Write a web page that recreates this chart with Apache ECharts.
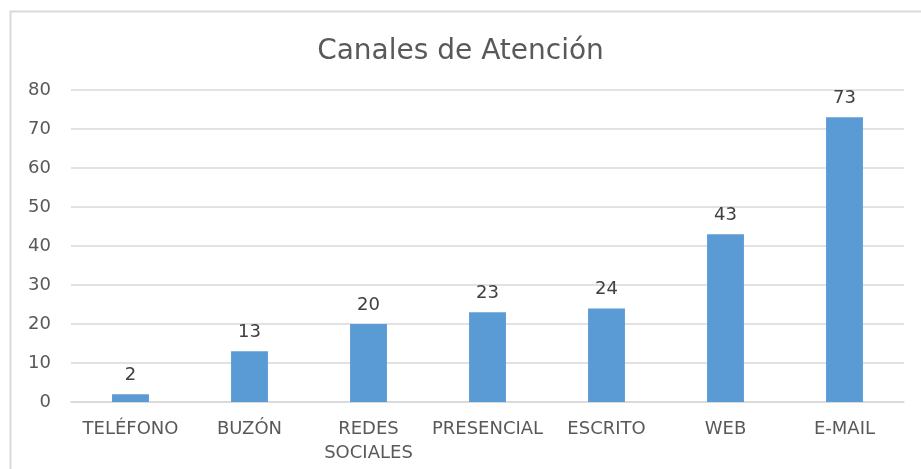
<!DOCTYPE html>
<html><head><meta charset="utf-8">
<script src="https://cdn.jsdelivr.net/npm/echarts@6/dist/echarts.min.js"></script>
<style>html,body{margin:0;padding:0;background:#fff}#c{width:921px;height:469px}</style>
</head><body><div id="c"></div>
<script>
const categories = ['TELÉFONO','BUZÓN','REDES\nSOCIALES','PRESENCIAL','ESCRITO','WEB','E-MAIL'];
const values = [2,13,20,23,24,43,73];
const yTicks = {min:0,max:80,interval:10};
const titleText = 'Canales de Atención';
const font = 'DejaVu Sans';
const chart = echarts.init(document.getElementById('c'));
chart.setOption({
  animation:false,
  graphic:[{type:'rect',shape:{x:10.5,y:11.5,width:930,height:480},style:{fill:'none',stroke:'#d9d9d9',lineWidth:2}}],
  title:{text:titleText,left:'center',top:33,textStyle:{fontFamily:font,fontSize:28,fontWeight:'normal',color:'#595959'}},
  grid:{left:71,right:17,top:90,bottom:67},
  xAxis:{type:'category',data:categories,
    axisLine:{lineStyle:{color:'#d9d9d9',width:1.5}},axisTick:{show:false},
    axisLabel:{fontFamily:font,fontSize:18,color:'#595959',margin:15,lineHeight:24,interval:0}},
  yAxis:{type:'value',min:yTicks.min,max:yTicks.max,interval:yTicks.interval,
    axisLine:{show:false},axisTick:{show:false},
    splitLine:{lineStyle:{color:'#d9d9d9',width:1.5}},
    axisLabel:{fontFamily:font,fontSize:18,color:'#595959',margin:20}},
  series:[{type:'bar',data:values,barWidth:'31%',itemStyle:{color:'#5b9bd5'},
    label:{show:true,position:'top',distance:10,fontFamily:font,fontSize:18,color:'#404040'}}]
});
</script></body></html>
